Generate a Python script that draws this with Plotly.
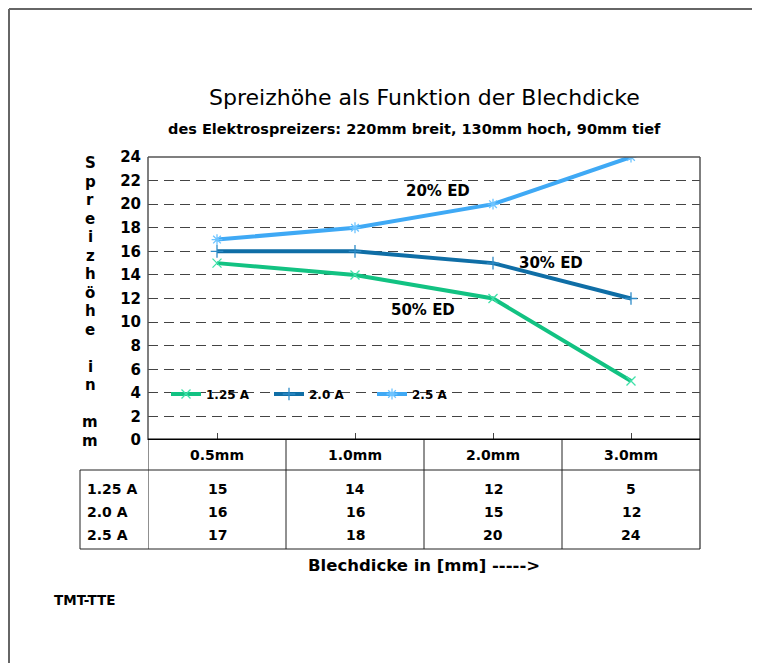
import plotly.graph_objects as go

categories = ["0.5mm", "1.0mm", "2.0mm", "3.0mm"]
series_names = ["1.25 A", "2.0 A", "2.5 A"]
s125 = [15, 14, 12, 5]
s200 = [16, 16, 15, 12]
s250 = [17, 18, 20, 24]
y_ticks = list(range(0, 25, 2))
ed_labels = ["20% ED", "30% ED", "50% ED"]

OFF = 8                      # default page body margin
W, H = 760 - 2 * OFF, 671 - 2 * OFF
L, R, T, B = 148, 700, 157, 440   # plot area in screen pixels

def px(xp):
    return (xp - L) / (R - L)

def py(yp):
    return (B - yp) / (B - T)

FONT = "DejaVu Sans"
colors = ["#12C282", "#0F6EA6", "#3FA9F5"]
mcolors = ["#3FE0A8", "#2F8CC8", "#6EC4FF"]
symbols = ["x-thin", "cross-thin", "asterisk-open"]

fig = go.Figure()
for name, vals, c, mc, sym in zip(series_names, [s125, s200, s250], colors, mcolors, symbols):
    fig.add_trace(go.Scatter(
        x=categories, y=vals, name=name, mode="lines+markers",
        line=dict(color=c, width=4),
        marker=dict(symbol=sym, size=9, color=mc, line=dict(color=mc, width=1.3)),
    ))

shapes = []
# outer frame (top and left edges; the rest lies outside the picture)
for (x0, y0, x1, y1) in [(9, 9, 800, 9), (9, 9, 9, 760)]:
    shapes.append(dict(type="line", xref="paper", yref="paper",
                       x0=px(x0), x1=px(x1), y0=py(y0), y1=py(y1),
                       line=dict(color="#666666", width=2), layer="below"))
# plot box top/left/right
for (x0, y0, x1, y1) in [(L, T, R, T), (L, T, L, B), (R, T, R, 549)]:
    shapes.append(dict(type="line", xref="paper", yref="paper",
                       x0=px(x0), x1=px(x1), y0=py(y0), y1=py(y1),
                       line=dict(color="#555555", width=1.5)))
# table lines
n = len(categories)
for i in range(n):
    shapes.append(dict(type="line", xref="x", yref="paper",
                       x0=i - 0.5, x1=i - 0.5, y0=py(440), y1=py(549),
                       line=dict(color="#222222", width=1)))
for (x0, y0, x1, y1) in [(80, 470, R, 470), (80, 549, R, 549), (80, 470, 80, 549)]:
    shapes.append(dict(type="line", xref="paper", yref="paper",
                       x0=px(x0), x1=px(x1), y0=py(y0), y1=py(y1),
                       line=dict(color="#222222", width=1)))
# zero axis line (thick)
shapes.append(dict(type="line", xref="paper", yref="y",
                   x0=0, x1=1, y0=0, y1=0, line=dict(color="black", width=3)))

def note(text, sx, sy, size, xanchor="center", xref="paper", xval=None, bold=True):
    return dict(text=f"<b>{text}</b>" if bold else text,
                x=px(sx) if xval is None else xval, y=py(sy),
                xref=xref, yref="paper", xanchor=xanchor, yanchor="middle",
                showarrow=False, font=dict(family=FONT, size=size, color="black"))

ann = []
ann.append(note("Spreizhöhe als Funktion der Blechdicke", 424, 97, 22, bold=False))
ann.append(note("des Elektrospreizers: 220mm breit, 130mm hoch, 90mm tief", 414, 129, 14.5))
# vertical y-axis title letters
ytitle = "Spreizhöhe in mm"
for k, ch in enumerate(ytitle):
    if ch == " ":
        continue
    ann.append(note(ch, 90, 163 + k * 18.5, 15))
# ED labels
for txt, (xp, yp) in zip(ed_labels, [(438, 191), (551, 263), (423, 310)]):
    ann.append(note(txt, xp, yp, 15))
# table
row_y = [489, 512, 535]
for name, vals, yp in zip(series_names, [s125, s200, s250], row_y):
    ann.append(note(name, 85, yp, 14, xanchor="left"))
    for i, v in enumerate(vals):
        ann.append(note(str(v), 0, yp, 14, xref="x", xval=categories[i]))
ann.append(note("Blechdicke in [mm] ----->", 424, 565, 16.5))
ann.append(note("TMT-TTE", 52, 600, 13.5, xanchor="left"))

fig.update_layout(
    width=W, height=H,
    margin=dict(l=L - OFF, r=W - (R - OFF), t=T - OFF, b=H - (B - OFF), pad=0),
    paper_bgcolor="white", plot_bgcolor="white",
    showlegend=True,
    legend=dict(orientation="h", x=px(166), y=py(394), xanchor="left", yanchor="middle",
                bgcolor="rgba(0,0,0,0)",
                font=dict(family=FONT, size=12, color="black", weight="bold"),
                entrywidth=58, itemwidth=30, tracegroupgap=0),
    shapes=shapes, annotations=ann,
    font=dict(family=FONT, color="black"),
)
fig.update_xaxes(type="category", range=[-0.5, n - 0.5], showgrid=False, showline=False,
                 zeroline=False, ticks="inside", ticklen=7, tickcolor="#444", tickwidth=1,
                 tickfont=dict(family=FONT, size=14, color="black", weight="bold"),
                 ticklabelstandoff=5)
fig.update_yaxes(range=[0, 24], tickvals=y_ticks, showgrid=True, gridcolor="#444444",
                 griddash="10px,6px", gridwidth=1, zeroline=False, showline=False,
                 tickfont=dict(family=FONT, size=15, color="black", weight="bold"),
                 ticks="", ticklabelstandoff=6)

fig.write_html("out.html")
